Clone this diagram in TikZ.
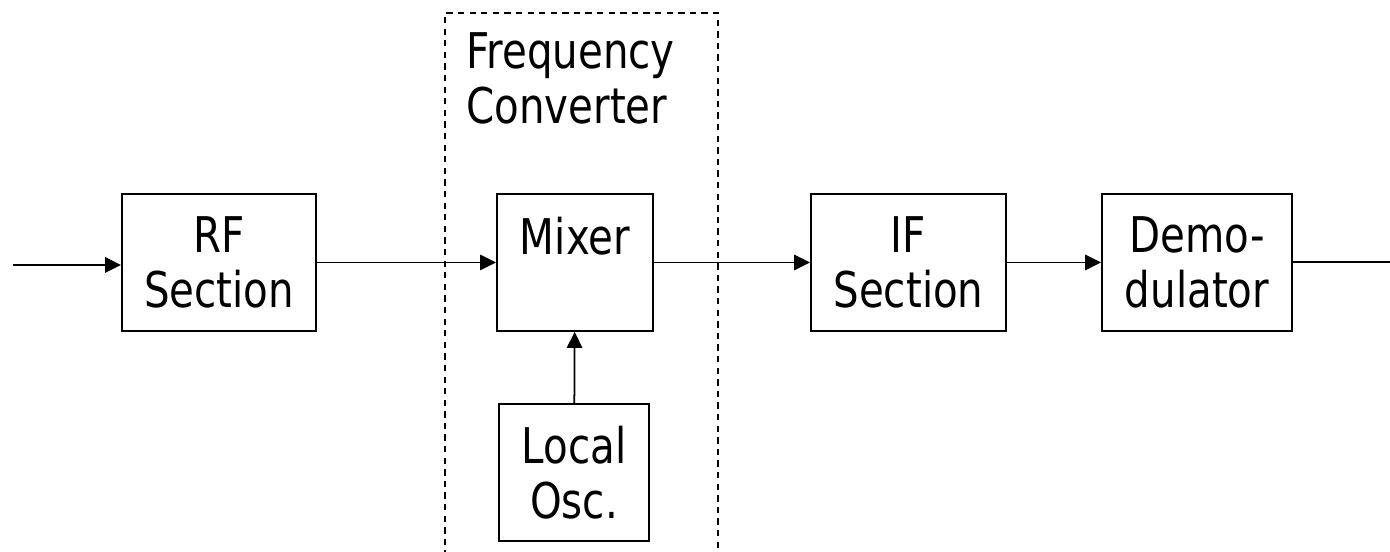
\documentclass[tikz,border=0pt]{standalone}
\usepackage{fontspec}
\setmainfont{DejaVu Sans}[FakeStretch=0.82]
\usepackage{tikz}
\usetikzlibrary{positioning, arrows.meta}

\tikzset{
	blockbox/.style={draw, line width=1.1pt, minimum height=2.74cm, align=center, inner sep=0pt, font=\fontsize{28}{31.5}\selectfont},
	sigarrow/.style={-{Triangle[length=3.2mm, width=3.1mm]}, line width=1pt},
	convbox/.style={draw, dashed, dash pattern=on 3.6pt off 3pt, line width=0.9pt}
}

\begin{document}
\begin{tikzpicture}
		\useasboundingbox (0,0) rectangle (27.8,-11.04);
		% frequency converter frame
		\draw [convbox] (8.90,-11.6) -- (8.90,-0.26) -- (14.36,-0.26) -- (14.36,-11.6);
		\node[anchor=north west, align=left, inner sep=0pt, font=\fontsize{28}{31.5}\selectfont] (convlabel) at (9.32,-0.64) {Frequency\\Converter};
		
		\node[blockbox, minimum width=3.88cm] (rf) at (4.38,-5.25) {RF\\Section};
		\node[blockbox, minimum width=3.12cm, label={[anchor=north, inner sep=0pt, yshift=-0.47cm, font=\fontsize{28}{31.5}\selectfont]north:Mixer}] (mixer) at (11.5,-5.25) {};
		\node[blockbox, minimum width=3.0cm] (osc) at (11.48,-9.45) {Local\\Osc.};
		\node[blockbox, minimum width=3.90cm] (ifsec) at (18.17,-5.25) {IF\\Section};
		\node[blockbox, minimum width=3.80cm] (demod) at (23.94,-5.25) {Demo-\\dulator};
		
		\coordinate (input) at (0.26,-5.3);
		\coordinate (output) at (27.8,-5.24);
		
		\draw [sigarrow] (input) -- (input -| rf.west);
		\draw [sigarrow] (rf) -- (mixer);
		\draw [sigarrow] (osc) -- (mixer);
		\draw [sigarrow] (mixer) -- (ifsec);
		\draw [sigarrow] (ifsec) -- (demod);
		\draw [line width=1pt] (demod.east |- output) -- (output);
\end{tikzpicture}
\end{document}
